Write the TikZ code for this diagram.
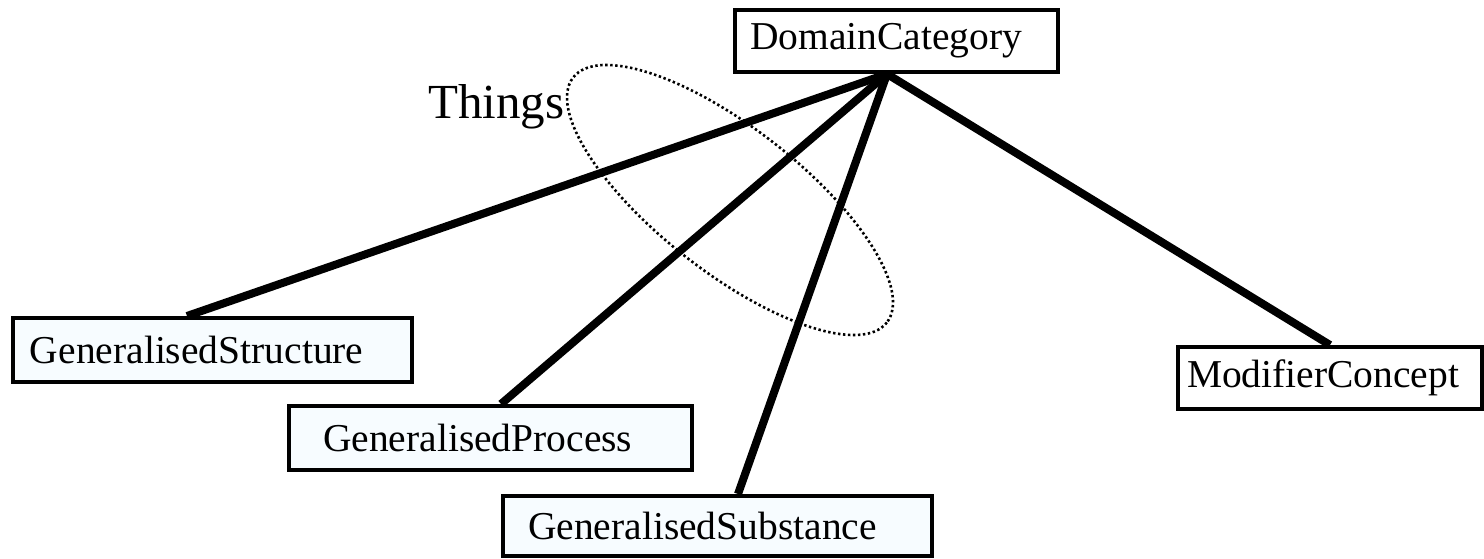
\documentclass[tikz,border=0pt]{standalone}
\usepackage{fontspec}
\setmainfont{Liberation Serif}
\usetikzlibrary{calc}
\definecolor{paleblue}{RGB}{247,252,255}
\tikzset{
  conceptbox/.style={draw=black, line width=4pt, rectangle, inner ysep=0pt,
    align=left, font=\fontsize{39.5}{44}\selectfont},
  link/.style={line width=8pt},
  grouping/.style={line width=2.6pt, dash pattern=on 2.4pt off 2.6pt}
}
\begin{document}
\begin{tikzpicture}[x=1pt,y=-1pt]
  \useasboundingbox (0,0) rectangle (1484,558);
  % concept boxes
  \node[conceptbox, fill=white, minimum width=323, minimum height=62,
        inner xsep=15pt, text width=293pt] (dc) at (896.5,41) {DomainCategory};
  \node[conceptbox, fill=paleblue, minimum width=399, minimum height=64,
        inner xsep=17pt, text width=365pt] (gs) at (212.5,350) {GeneralisedStructure};
  \node[conceptbox, fill=paleblue, minimum width=403, minimum height=64,
        inner xsep=34pt, text width=335pt] (gp) at (490.5,438) {GeneralisedProcess};
  \node[conceptbox, fill=paleblue, minimum width=429, minimum height=60,
        inner xsep=25pt, text width=379pt] (gsub) at (717.5,526) {GeneralisedSubstance};
  \node[conceptbox, fill=white, minimum width=304, minimum height=62,
        inner xsep=9pt, text width=286pt] (mc) at (1330,378) {ModifierConcept};
  % common point under DomainCategory
  \coordinate (hub) at ($(dc.south)+(-9.5,0)$);
  % links
  \draw[link] (hub) -- ($(gs.north west)+(176,0)$);
  \draw[link] (hub) -- ($(gp.north west)+(214,0)$);
  \draw[link] (hub) -- ($(gsub.north west)+(237,0)$);
  \draw[link] (hub) -- (mc.north);
  % grouping ellipse and its label
  \draw[grouping] (730,200) ellipse [x radius=199, y radius=72, rotate=-38];
  \node[anchor=base west, inner sep=0pt, font=\fontsize{49}{54}\selectfont] (things) at (428,118) {Things};
\end{tikzpicture}
\end{document}
